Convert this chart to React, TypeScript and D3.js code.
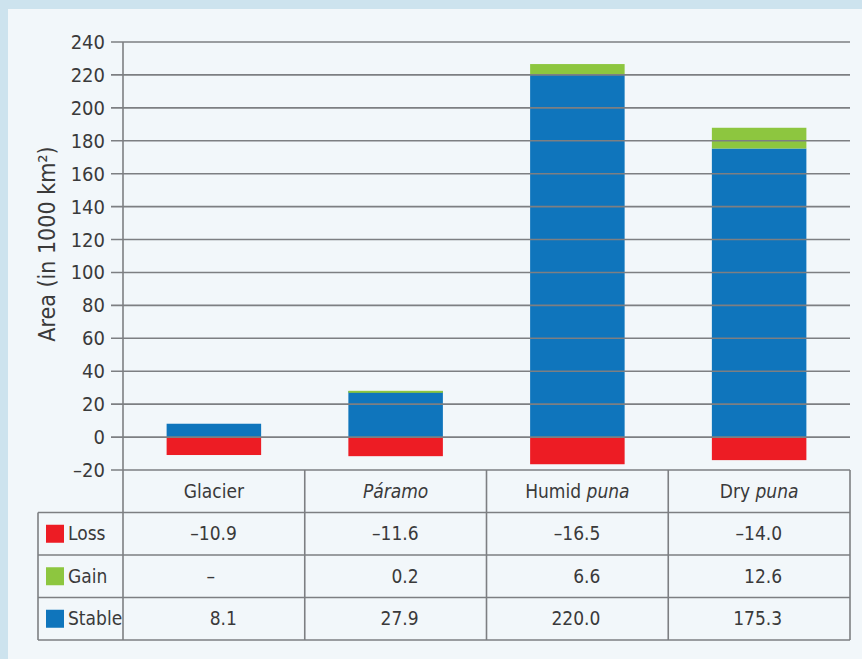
import React from 'react';
import * as d3 from 'd3';

const categories = ['Glacier', 'Páramo', 'Humid puna', 'Dry puna'];
const series = ['Loss', 'Gain', 'Stable'];
const loss = [-10.9, -11.6, -16.5, -14.0];
const gain = [null, 0.2, 6.6, 12.6];
const stable = [8.1, 27.9, 220.0, 175.3];
const yTicks = [-20, 0, 20, 40, 60, 80, 100, 120, 140, 160, 180, 200, 220, 240];

const colors: Record<string, string> = { Loss: '#ed1c24', Gain: '#8dc63f', Stable: '#0f75bc' };
const FONT = "'DejaVu Sans Condensed', 'Open Sans', sans-serif";
const TEXT = '#3a3a3a';
const GRID = '#7d7f82';

const W = 862;
const H = 659;

function fmt(v: number | null) {
  if (v === null) return '–';
  return v < 0 ? `–${Math.abs(v).toFixed(1)}` : v.toFixed(1);
}

// header labels: plain part + italic part
const headerParts: [string, string][] = [
  ['Glacier', ''],
  ['', 'Páramo'],
  ['Humid ', 'puna'],
  ['Dry ', 'puna'],
];

export default function App() {
  const plotLeft = 123;
  const plotRight = 850;
  const y = d3.scaleLinear().domain([-20, 240]).range([470, 42]);
  const x = d3.scaleBand().domain(categories).range([plotLeft, plotRight]);
  const bw = x.bandwidth();
  const barW = bw * 0.52;
  const rows = d3.scaleBand().domain(['header', ...series]).range([470, 640]);
  const tableLeft = 38;

  const values: Record<string, (number | null)[]> = { Loss: loss, Gain: gain, Stable: stable };

  return (
    <svg width={W} height={H} style={{ position: 'absolute', left: 0, top: 0 }} fontFamily={FONT}>
      <rect x={0} y={0} width={W} height={H} fill="#cde3ee" />
      <rect x={8} y={9} width={W - 8} height={H - 9} fill="#f2f7fa" />

      {/* bars */}
      {categories.map((c, i) => {
        const bx = (x(c) as number) + (bw - barW) / 2;
        const s = stable[i];
        const g = gain[i] ?? 0;
        return (
          <g key={c}>
            <rect x={bx} y={y(0)} width={barW} height={y(loss[i]) - y(0)} fill={colors.Loss} />
            <rect x={bx} y={y(s)} width={barW} height={y(0) - y(s)} fill={colors.Stable} />
            {g > 0 && (
              <rect x={bx} y={y(s + g)} width={barW} height={Math.max(y(s) - y(s + g), 2)} fill={colors.Gain} />
            )}
          </g>
        );
      })}

      {/* gridlines & ticks */}
      {yTicks.map((t) => (
        <g key={t}>
          <line x1={111} x2={plotRight} y1={y(t)} y2={y(t)} stroke={GRID} strokeWidth={1.6} />
          <text x={105} y={y(t)} dy="0.35em" textAnchor="end" fontSize={20} fill={TEXT}>
            {t < 0 ? `–${Math.abs(t)}` : t}
          </text>
        </g>
      ))}
      <line x1={plotLeft} x2={plotLeft} y1={y(240)} y2={640} stroke={GRID} strokeWidth={1.6} />

      <text
        transform={`translate(55,244) rotate(-90)`}
        textAnchor="middle"
        fontSize={23}
        fill={TEXT}
      >
        Area (in 1000 km²)
      </text>

      {/* table grid */}
      {categories.map((c) => (
        <line key={c} x1={(x(c) as number) + bw} x2={(x(c) as number) + bw} y1={470} y2={640} stroke={GRID} strokeWidth={1.6} />
      ))}
      <line x1={tableLeft} x2={tableLeft} y1={rows('Loss') as number} y2={640} stroke={GRID} strokeWidth={1.6} />
      {series.map((s) => (
        <line key={s} x1={tableLeft} x2={plotRight} y1={rows(s) as number} y2={rows(s) as number} stroke={GRID} strokeWidth={1.6} />
      ))}
      <line x1={tableLeft} x2={plotRight} y1={640} y2={640} stroke={GRID} strokeWidth={1.6} />

      {/* header */}
      {categories.map((c, i) => (
        <text
          key={c}
          x={(x(c) as number) + bw / 2}
          y={(rows('header') as number) + rows.bandwidth() / 2}
          dy="0.35em"
          textAnchor="middle"
          fontSize={19}
          fill={TEXT}
        >
          {headerParts[i][0]}
          {headerParts[i][1] && <tspan fontStyle="italic">{headerParts[i][1]}</tspan>}
        </text>
      ))}

      {/* rows */}
      {series.map((s) => {
        const ry = (rows(s) as number) + rows.bandwidth() / 2;
        return (
          <g key={s}>
            <rect x={46} y={ry - 9} width={18} height={18} fill={colors[s]} />
            <text x={68} y={ry} dy="0.35em" fontSize={19} fill={TEXT}>
              {s}
            </text>
            {categories.map((c, i) => {
              const v = values[s][i];
              const cx = (x(c) as number) + bw / 2;
              return (
                <text
                  key={c}
                  x={v === null ? cx - 3 : cx + 23}
                  y={ry}
                  dy="0.35em"
                  textAnchor={v === null ? 'middle' : 'end'}
                  fontSize={19}
                  fill={TEXT}
                >
                  {fmt(v)}
                </text>
              );
            })}
          </g>
        );
      })}
    </svg>
  );
}
